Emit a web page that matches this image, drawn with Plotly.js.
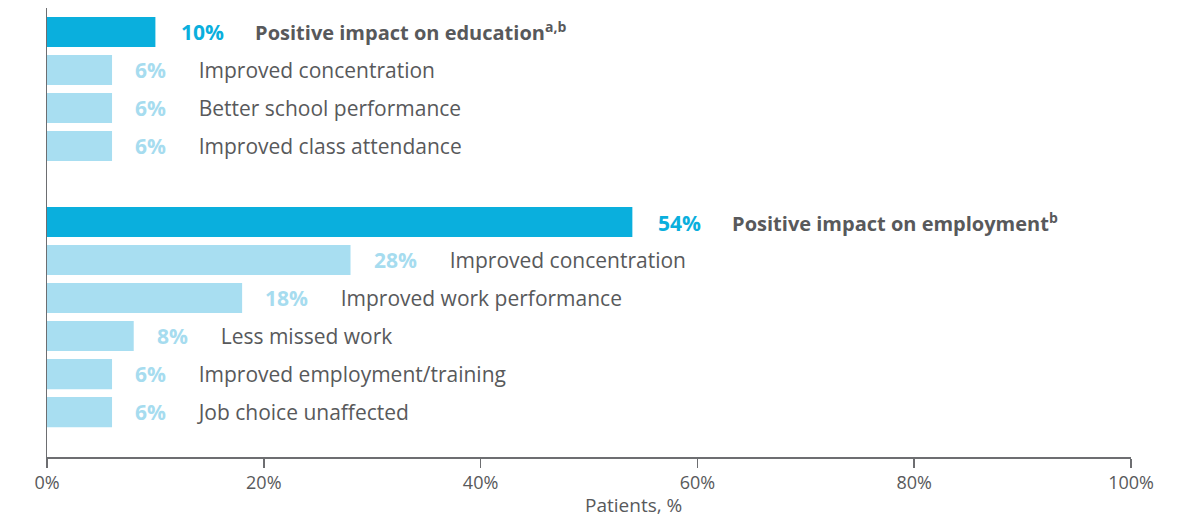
<!DOCTYPE html>
<html>
<head>
<meta charset="utf-8">
<script src="https://cdn.plot.ly/plotly-3.0.1.min.js"></script>
<style>html,body{margin:0;padding:0;background:#fff;}#chart{width:1193px;height:517px;}</style>
</head>
<body>
<div id="chart"></div>
<script>
// Data
const eduLabels = ['Positive impact on education<sup>a,b</sup>', 'Improved concentration', 'Better school performance', 'Improved class attendance'];
const eduValues = [10, 6, 6, 6];
const empLabels = ['Positive impact on employment<sup>b</sup>', 'Improved concentration', 'Improved work performance', 'Less missed work', 'Improved employment/training', 'Job choice unaffected'];
const empValues = [54, 28, 18, 8, 6, 6];
const xTicks = [0, 20, 40, 60, 80, 100];

const darkBlue = '#0aafdd';
const lightBlue = '#a8def1';
const lightText = '#a6dcef';
const grey = '#58595b';
const FONT = '"Open Sans", sans-serif';

// Build rows (group header first, then items); one empty slot between groups
const rows = [];
let pos = 0;
[[eduLabels, eduValues], [empLabels, empValues]].forEach(([labs, vals], g) => {
  labs.forEach((l, i) => {
    rows.push({label: l, value: vals[i], y: pos, header: i === 0});
    pos += 1;
  });
  pos += 1;
});

const trace = {
  type: 'bar',
  orientation: 'h',
  x: rows.map(r => r.value),
  y: rows.map(r => r.y),
  width: 0.79,
  marker: {color: rows.map(r => r.header ? darkBlue : lightBlue)},
  hoverinfo: 'skip'
};

const gap = '\u00a0'.repeat(6);
const annotations = rows.map(r => ({
  x: r.value, y: r.y, xref: 'x', yref: 'y',
  xanchor: 'left', yanchor: 'middle', xshift: r.header ? 24 : 21, showarrow: false,
  align: 'left',
  font: {family: FONT, size: r.header ? 20 : 21, color: grey},
  text: r.header
    ? '<span style="color:' + darkBlue + ';font-size:21px"><b>' + r.value + '%</b></span>' + gap + '<b>' + r.label + '</b>'
    : '<span style="color:' + lightText + '"><b>' + r.value + '%</b></span>' + gap + r.label
}));

annotations.push({
  xref: 'paper', yref: 'paper', x: 0.5406, y: -0.108,
  xanchor: 'center', yanchor: 'middle', showarrow: false,
  text: 'Patients, %',
  font: {family: FONT, size: 19, color: grey}
});

const layout = {
  width: 1193, height: 517,
  margin: {l: 47, r: 62, t: 8, b: 60},
  paper_bgcolor: '#fff', plot_bgcolor: '#fff',
  showlegend: false,
  xaxis: {
    range: [0, 100], tickvals: xTicks, ticktext: xTicks.map(v => v + '%'),
    showgrid: false, zeroline: false,
    showline: true, linecolor: '#6d6e71', linewidth: 1.5,
    ticks: 'outside', ticklen: 9, tickcolor: '#6d6e71', tickwidth: 1.5,
    tickfont: {family: FONT, size: 18, color: grey},
    fixedrange: true
  },
  yaxis: {
    range: [11.18, -0.63], showticklabels: false, showgrid: false, zeroline: false,
    showline: true, linecolor: '#6d6e71', linewidth: 1.5, ticks: '', fixedrange: true
  },
  annotations: annotations
};

Plotly.newPlot('chart', [trace], layout, {displayModeBar: false, staticPlot: true});
</script>
</body>
</html>
